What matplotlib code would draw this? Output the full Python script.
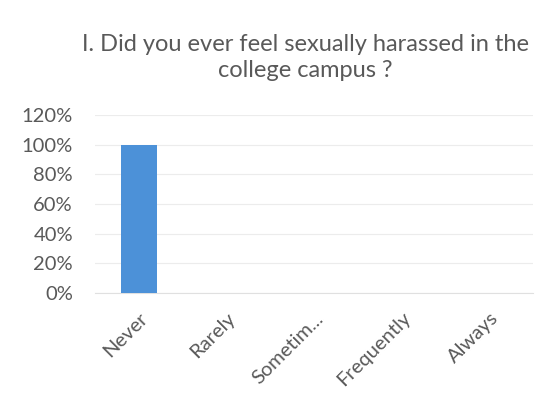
import matplotlib
matplotlib.use("Agg")
import matplotlib.pyplot as plt
from matplotlib.ticker import FuncFormatter

categories = ["Never", "Rarely", "Sometim...", "Frequently", "Always"]
values = [1.0, 0.0, 0.0, 0.0, 0.0]
yticks = [0, 0.2, 0.4, 0.6, 0.8, 1.0, 1.2]
title = "I. Did you ever feel sexually harassed in the\ncollege campus ?"

plt.rcParams['font.family'] = ['Lato', 'DejaVu Sans']
fig = plt.figure(figsize=(5.53, 4.05), dpi=100)
ax = fig.add_axes([0.172, 0.277, 0.792, 0.439])
x = range(len(categories))
ax.bar(x, values, width=0.42, color="#4C91D8", zorder=3)
ax.set_xlim(-0.5, len(categories) - 0.5)
ax.set_ylim(0, 1.2)
ax.set_yticks(yticks)
ax.yaxis.set_major_formatter(FuncFormatter(lambda v, p: f"{v*100:.0f}%"))
ax.set_xticks(list(x))
ax.set_xticklabels(categories, rotation=45, ha="right", rotation_mode="anchor",
                   fontsize=14.5, color="#595959")
ax.tick_params(axis="y", labelsize=14.5, labelcolor="#595959", length=0, pad=16)
ax.tick_params(axis="x", length=0, pad=12)
ax.grid(axis="y", color="#ececec", linewidth=0.8, zorder=0)
for s in ["top", "right", "left"]:
    ax.spines[s].set_visible(False)
ax.spines["bottom"].set_color("#e0e0e0")
fig.text(0.552, 0.859, title, ha="center", va="center", fontsize=17,
         color="#595959", linespacing=1.3)
fig.savefig("out.png", dpi=100, facecolor="white")
